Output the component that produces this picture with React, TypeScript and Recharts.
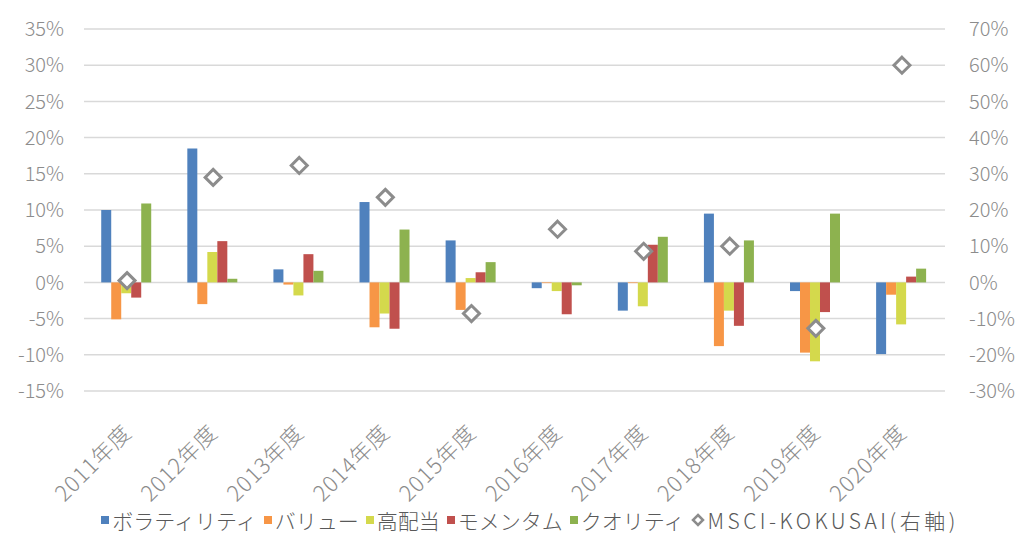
import React from "react";
import { ComposedChart, Bar, Scatter, XAxis, YAxis, CartesianGrid, Legend } from "recharts";

// 年度ごとのファクター別リターン（%）
const years = ["2011年度", "2012年度", "2013年度", "2014年度", "2015年度", "2016年度", "2017年度", "2018年度", "2019年度", "2020年度"];
const volatility = [10.0, 18.5, 1.8, 11.1, 5.8, -0.8, -3.9, 9.5, -1.2, -9.9];
const value = [-5.1, -3.0, -0.3, -6.2, -3.8, -0.1, -0.1, -8.8, -9.7, -1.7];
const highDividend = [-1.5, 4.2, -1.8, -4.3, 0.6, -1.2, -3.3, -3.9, -10.9, -5.8];
const momentum = [-2.1, 5.7, 3.9, -6.4, 1.4, -4.4, 5.2, -6.0, -4.1, 0.8];
const quality = [10.9, 0.5, 1.6, 7.3, 2.8, -0.4, 6.3, 5.8, 9.5, 1.9];
// MSCI-KOKUSAI（右軸）
const msci = [0.5, 29.0, 32.3, 23.5, -8.6, 14.7, 8.6, 10.0, -12.7, 60.0];

const leftTicks = [-15, -10, -5, 0, 5, 10, 15, 20, 25, 30, 35];
const rightTicks = [-30, -20, -10, 0, 10, 20, 30, 40, 50, 60, 70];

const series = [
    { key: "volatility", name: "ボラティリティ", color: "#4f81bd" },
    { key: "value", name: "バリュー", color: "#f79646" },
    { key: "highDividend", name: "高配当", color: "#d4d94c" },
    { key: "momentum", name: "モメンタム", color: "#c0504d" },
    { key: "quality", name: "クオリティ", color: "#8db24f" },
];

const data = years.map((year, i) => ({
    year,
    volatility: volatility[i],
    value: value[i],
    highDividend: highDividend[i],
    momentum: momentum[i],
    quality: quality[i],
    msci: msci[i],
}));

const FONT = '"Noto Sans CJK JP", "Noto Sans", sans-serif';
const TICK_COLOR = "#8c8c8c";

const Diamond = (props: any) => {
    const { cx, cy } = props;
    if (cx == null || cy == null) return null;
    const r = 8;
    return (
        <polygon
            points={`${cx},${cy - r} ${cx + r},${cy} ${cx},${cy + r} ${cx - r},${cy}`}
            fill="#fff"
            stroke="#8c8c8c"
            strokeWidth={3}
        />
    );
};

// 斜め45度の年度ラベル
const YearTick = (props: any) => {
    const { x, y, payload } = props;
    const tx = x + 6;
    const ty = y + 35;
    return (
        <text
            x={tx}
            y={ty}
            transform={`rotate(-45, ${tx}, ${ty})`}
            textAnchor="end"
            fontSize={22}
            letterSpacing={1}
            fontFamily={FONT}
            fontWeight={300}
            fill={TICK_COLOR}
        >
            {payload.value}
        </text>
    );
};

const LegendContent = () => (
    <div
        style={{
            display: "flex",
            justifyContent: "center",
            alignItems: "center",
            paddingTop: 7,
            paddingLeft: 38,
            fontFamily: FONT,
            fontSize: 21,
            fontWeight: 300,
            color: "#595959",
            whiteSpace: "nowrap",
        }}
    >
        {series.map((s) => (
            <span key={s.key} style={{ display: "inline-flex", alignItems: "center", marginRight: 7 }}>
                <span style={{ width: 8, height: 8, background: s.color, marginRight: 3, display: "inline-block" }} />
                {s.name}
            </span>
        ))}
        <span style={{ display: "inline-flex", alignItems: "center" }}>
            <svg width={14} height={14} style={{ marginRight: 2 }}>
                <polygon points="7,2 12,7 7,12 2,7" fill="#fff" stroke="#8c8c8c" strokeWidth={2.5} />
            </svg>
            <span style={{ letterSpacing: 3.5 }}>MSCI-KOKUSAI(右軸)</span>
        </span>
    </div>
);

export default function App() {
    return (
        <div style={{ position: "absolute", left: 0, top: 0, background: "#fff" }}>
            <ComposedChart
                width={1022}
                height={536}
                data={data}
                margin={{ top: 29, right: 0, bottom: 0, left: 0 }}
                barCategoryGap="20%"
                barGap={0}
            >
                <CartesianGrid vertical={false} stroke="#d9d9d9" strokeWidth={1.5} yAxisId="left" />
                <XAxis dataKey="year" axisLine={false} tickLine={false} interval={0} height={107} tick={<YearTick />} />
                <YAxis
                    yAxisId="left"
                    domain={[-15, 35]}
                    ticks={leftTicks}
                    interval={0}
                    width={84}
                    axisLine={false}
                    tickLine={false}
                    tickMargin={14}
                    tickFormatter={(v) => `${v}%`}
                    tick={{ fill: TICK_COLOR, fontSize: 20, fontFamily: FONT, fontWeight: 300 }}
                />
                <YAxis
                    yAxisId="right"
                    orientation="right"
                    domain={[-30, 70]}
                    ticks={rightTicks}
                    interval={0}
                    width={77}
                    axisLine={false}
                    tickLine={false}
                    tickMargin={18}
                    tickFormatter={(v) => `${v}%`}
                    tick={{ fill: TICK_COLOR, fontSize: 20, fontFamily: FONT, fontWeight: 300, textAnchor: "start" }}
                />
                {series.map((s) => (
                    <Bar key={s.key} yAxisId="left" dataKey={s.key} name={s.name} fill={s.color} isAnimationActive={false} />
                ))}
                <Scatter yAxisId="right" dataKey="msci" name="MSCI-KOKUSAI(右軸)" shape={<Diamond />} isAnimationActive={false} />
                <Legend verticalAlign="bottom" height={38} content={<LegendContent />} />
            </ComposedChart>
        </div>
    );
}
